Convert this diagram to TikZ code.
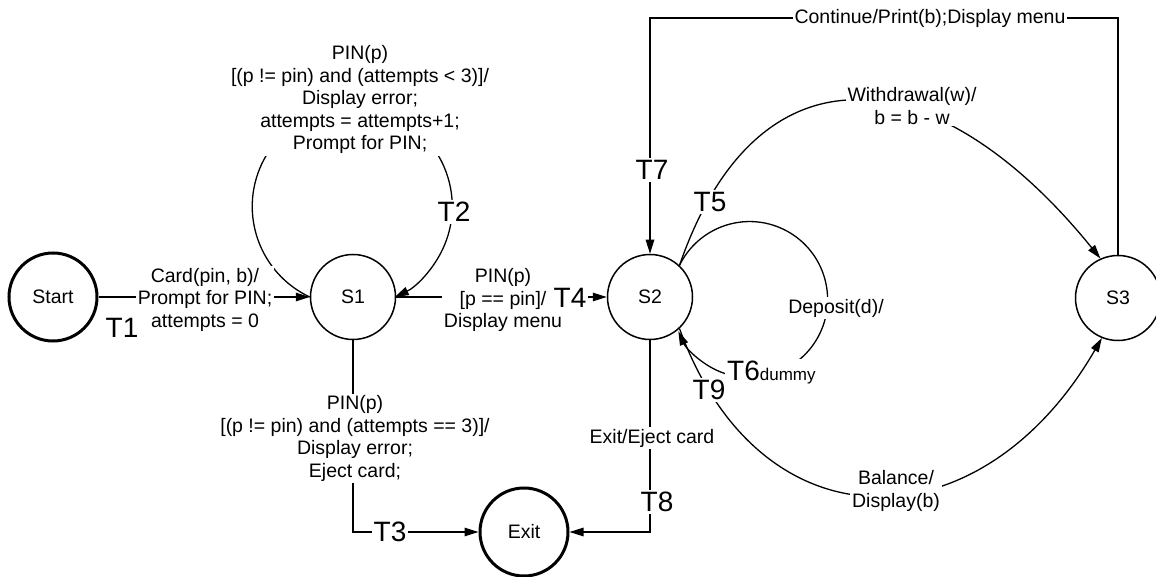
\documentclass[tikz,border=0pt]{standalone}
\usepackage{fontspec}
\setmainfont{Liberation Sans}
\usetikzlibrary{arrows.meta}

\begin{document}
\begin{tikzpicture}[
  x=1pt, y=1pt,
  >={Triangle[length=14pt,width=8.5pt]},
  font=\fontsize{19.5}{22.5}\selectfont,
  state/.style={draw, circle, line width=1.5pt, minimum size=85pt, inner sep=0pt},
  termstate/.style={state, line width=3pt, minimum size=88pt},
  trans/.style={->, line width=1.3pt},
  cond/.style={fill=white, inner sep=2pt, align=center},
  tname/.style={fill=white, inner sep=2pt, font=\fontsize{28}{30}\selectfont}
]
\useasboundingbox (0,0) rectangle (1156,576);

% states
\node[termstate] (start) at (53,279) {Start};
\node[state] (s1) at (353,279) {S1};
\node[state] (s2) at (650,279) {S2};
\node[state] (s3) at (1118,278) {S3};
\node[termstate] (exit) at (524,44) {Exit};

% transitions
\draw[trans] (start) -- (s1);
\draw[trans] (s1.west) arc[start angle=244.85, end angle=-64.85, radius=100];
\draw[trans] (s1.south) |- (exit.west);
\draw[trans] (s1) -- (s2);
\draw[trans] (s2.47) .. controls +(71:240) and +(129:260) .. (s3.114);
\draw[trans] (s2.47) arc[start angle=154, end angle=-156, radius=78];
\coordinate (t7top) at (650,558);
\draw[trans] (s3.north) |- (t7top) -- (s2.north);
\draw[trans] (s2.south) |- (exit.east);
\draw[trans] (s2.-47) .. controls +(-70:239) and +(-120:239) .. (s3.-112);

% guards and actions
\node[cond] (t1txt) at (205,276.5) {Card(pin, b)/\\Prompt for PIN;\\attempts = 0};
\node[tname] (t1) at (122,248) {T1};
\node[cond] (t2txt) at (360,476.5) {PIN(p)\\{}[(p != pin) and (attempts < 3)]/\\Display error;\\attempts = attempts+1;\\Prompt for PIN;};
\node[tname] (t2) at (454,364) {T2};
\node[cond] (t3txt) at (355,137.5) {PIN(p)\\{}[(p != pin) and (attempts == 3)]/\\Display error;\\Eject card;};
\node[tname] (t3) at (390,44) {T3};
\node[cond] (t4txt) at (503,276) {PIN(p)\\{}[p == pin]/\\Display menu};
\node[tname] (t4) at (570,278) {T4};
\node[cond] (t5txt) at (912,470) {Withdrawal(w)/\\b = b - w};
\node[tname] (t5) at (710,374) {T5};
\node[cond] (t6txt) at (836,268) {Deposit(d)/};
\node[tname, anchor=base west] (t6) at (725,195) {T6{\fontsize{17}{19}\selectfont dummy}};
\node[cond] (t7txt) at (930,558) {Continue/Print(b);Display menu};
\node[tname] (t7) at (652,406) {T7};
\node[cond] (t8txt) at (652,138) {Exit/Eject card};
\node[tname] (t8) at (657,74) {T8};
\node[tname] (t9) at (709,186) {T9};
\node[cond] (t9txt) at (896,85) {Balance/\\Display(b)};

\end{tikzpicture}
\end{document}
